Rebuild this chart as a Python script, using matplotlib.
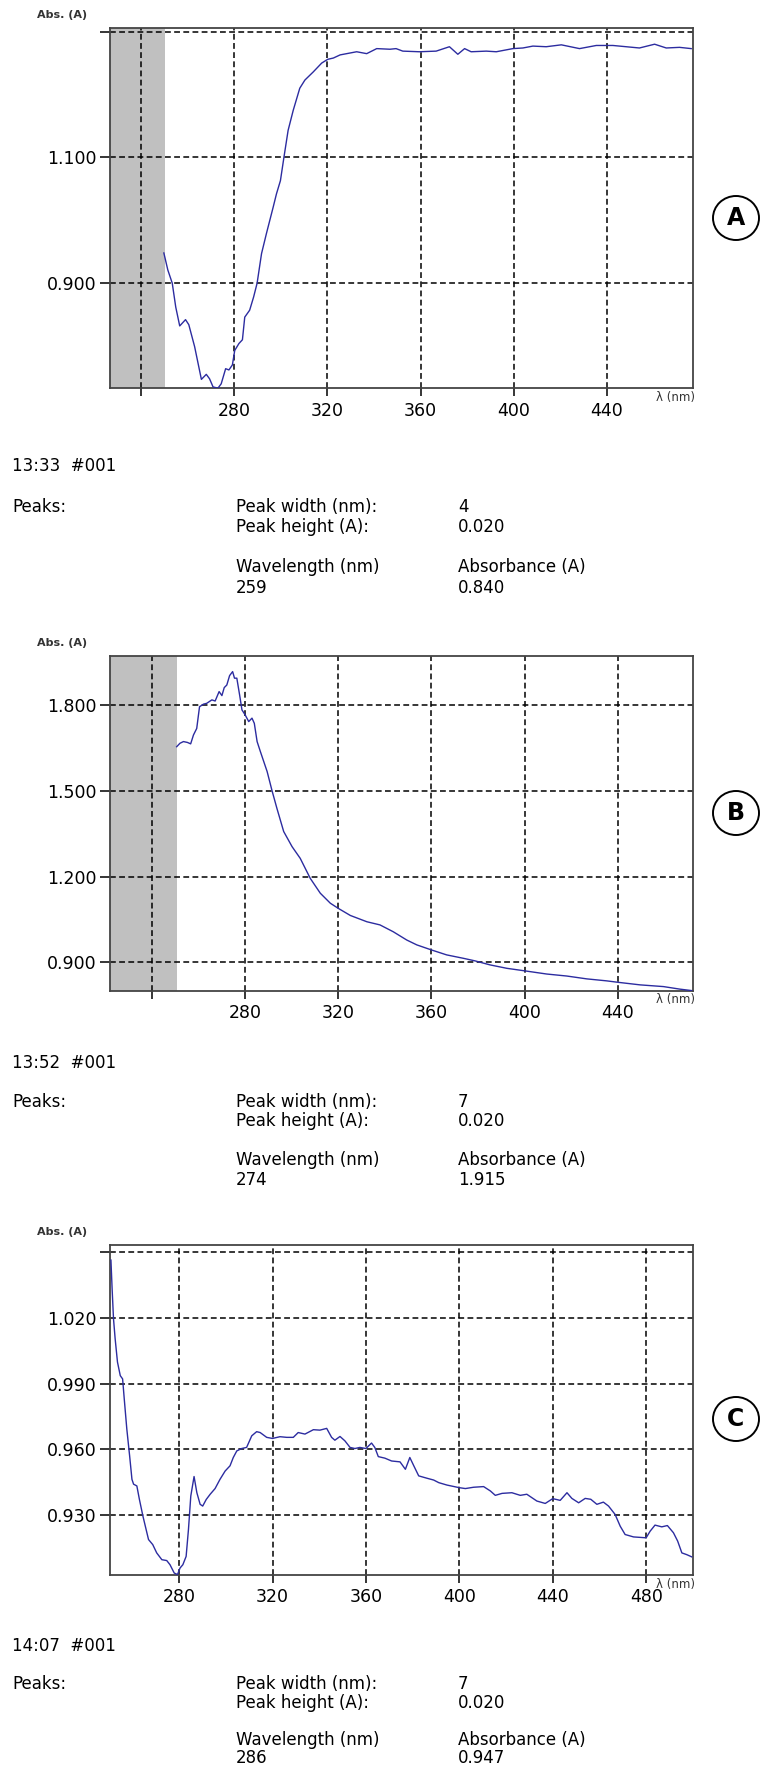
import matplotlib
matplotlib.use('Agg')
import matplotlib.pyplot as plt
from matplotlib.patches import Ellipse

W, H, DPI = 767, 1767, 100

# ---------------- data ----------------
# Spectrum A (13:33)
wl_a = [249.9, 251.6, 253.5, 255.0, 256.7, 259.2, 260.6, 263.1, 266.0, 268.1, 269.5, 271.0,
        273.1, 274.5, 276.4, 277.8, 279.3, 280.3, 282.1, 283.6, 284.6, 286.7, 288.4, 289.9,
        291.8, 293.9, 296.8, 298.2, 299.9, 301.4, 303.2, 305.4, 308.2, 310.4, 314.0, 317.6,
        320.2, 322.6, 325.5, 332.6, 336.9, 341.2, 346.9, 349.5, 352.4, 359.5, 366.7, 372.4,
        376.0, 378.9, 381.7, 388.2, 392.5, 399.6, 403.9, 408.2, 413.9, 420.4, 428.2, 435.4,
        442.5, 453.9, 460.4, 465.4, 471.1, 476.1]
abs_a = [0.948, 0.921, 0.900, 0.862, 0.832, 0.842, 0.834, 0.799, 0.747, 0.755, 0.748, 0.735,
         0.733, 0.740, 0.764, 0.762, 0.770, 0.793, 0.804, 0.810, 0.846, 0.857, 0.878, 0.900,
         0.947, 0.979, 1.021, 1.042, 1.063, 1.100, 1.143, 1.175, 1.210, 1.223, 1.236, 1.250,
         1.256, 1.258, 1.263, 1.268, 1.265, 1.273, 1.272, 1.273, 1.269, 1.268, 1.269, 1.276,
         1.264, 1.273, 1.268, 1.269, 1.268, 1.273, 1.274, 1.277, 1.276, 1.279, 1.273, 1.278,
         1.278, 1.274, 1.280, 1.274, 1.275, 1.273]

# Spectrum B (13:52)
wl_b = [250.7, 252.1, 253.6, 255.3, 256.7, 257.9, 259.3, 260.5, 262.2, 263.6, 265.8, 267.2,
        268.9, 270.1, 271.1, 272.2, 273.4, 274.7, 275.5, 276.5, 277.7, 278.7, 280.1, 281.6,
        283.0, 284.0, 285.2, 286.6, 289.5, 291.6, 293.7, 296.6, 300.2, 303.7, 308.0, 312.3,
        316.6, 320.0, 325.2, 332.3, 337.9, 343.6, 349.4, 353.7, 360.1, 366.5, 373.7, 378.7,
        385.1, 392.3, 400.1, 409.4, 418.0, 426.6, 435.2, 440.0, 449.5, 459.5, 466.6, 471.6]
abs_b = [1.655, 1.667, 1.673, 1.670, 1.665, 1.696, 1.719, 1.795, 1.804, 1.807, 1.819, 1.815,
         1.848, 1.834, 1.862, 1.871, 1.904, 1.918, 1.895, 1.895, 1.836, 1.784, 1.766, 1.743,
         1.755, 1.737, 1.673, 1.638, 1.568, 1.501, 1.439, 1.358, 1.305, 1.264, 1.194, 1.142,
         1.107, 1.089, 1.064, 1.042, 1.031, 1.007, 0.978, 0.961, 0.943, 0.926, 0.914, 0.905,
         0.891, 0.879, 0.870, 0.859, 0.852, 0.842, 0.835, 0.830, 0.821, 0.815, 0.806, 0.801]

# Spectrum C (14:07)
wl_c = [250.8, 251.3, 251.9, 252.6, 253.6, 254.8, 255.8, 256.5, 257.6, 258.8, 259.8, 260.5,
        261.9, 263.0, 264.5, 266.2, 266.9, 268.7, 270.4, 272.6, 274.7, 276.1, 277.9, 279.3,
        280.4, 281.6, 283.0, 284.0, 285.0, 286.4, 287.6, 289.0, 290.1, 291.6, 293.3, 295.4,
        297.5, 299.7, 301.8, 303.2, 304.7, 306.8, 308.9, 311.1, 313.2, 314.7, 317.5, 320.0,
        323.2, 326.1, 328.9, 331.0, 333.9, 337.5, 340.3, 343.2, 345.3, 346.7, 348.9, 351.0,
        353.2, 355.3, 357.4, 360.0, 362.4, 363.8, 365.3, 368.1, 371.0, 374.6, 376.9, 378.8,
        380.5, 382.6, 386.2, 389.0, 391.2, 394.7, 400.0, 402.6, 406.1, 410.4, 413.3, 415.4,
        418.3, 422.5, 426.1, 428.9, 433.2, 436.8, 440.0, 443.2, 446.1, 448.2, 451.1, 453.9,
        456.3, 458.9, 461.7, 463.9, 466.7, 468.9, 471.0, 474.6, 480.0, 481.7, 483.8, 486.7,
        489.1, 491.7, 493.5, 495.3, 497.4, 499.5]
abs_c = [1.0464, 1.0334, 1.0196, 1.0105, 0.9998, 0.9936, 0.9921, 0.9830, 0.9692, 0.9570,
         0.9462, 0.9440, 0.9432, 0.9370, 0.9294, 0.9218, 0.9187, 0.9164, 0.9126, 0.9095,
         0.9091, 0.9072, 0.9034, 0.9027, 0.9057, 0.9072, 0.9110, 0.9233, 0.9386, 0.9475,
         0.9401, 0.9348, 0.9340, 0.9370, 0.9394, 0.9420, 0.9462, 0.9500, 0.9524, 0.9562,
         0.9592, 0.9603, 0.9608, 0.9661, 0.9680, 0.9676, 0.9654, 0.9649, 0.9657, 0.9654,
         0.9654, 0.9676, 0.9669, 0.9689, 0.9687, 0.9695, 0.9654, 0.9641, 0.9658, 0.9638,
         0.9608, 0.9603, 0.9608, 0.9603, 0.9628, 0.9608, 0.9566, 0.9559, 0.9546, 0.9542,
         0.9508, 0.9562, 0.9524, 0.9478, 0.9467, 0.9459, 0.9447, 0.9436, 0.9424, 0.9420,
         0.9426, 0.9429, 0.9409, 0.9389, 0.9398, 0.9401, 0.9389, 0.9394, 0.9363, 0.9352,
         0.9374, 0.9366, 0.9401, 0.9375, 0.9355, 0.9375, 0.9371, 0.9348, 0.9358, 0.9340,
         0.9302, 0.9248, 0.9210, 0.9199, 0.9195, 0.9225, 0.9253, 0.9245, 0.9251, 0.9218,
         0.9180, 0.9126, 0.9118, 0.9108]

xlim_a, ylim_a = (226.8, 477.0), (0.7325, 1.3053)
xlim_b, ylim_b = (222.1, 472.3), (0.8006, 1.9737)
xlim_c, ylim_c = (250.4, 500.2), (0.9025, 1.0533)

xticks_a = [240, 280, 320, 360, 400, 440]
xlabels_a = ['', '280', '320', '360', '400', '440']
yticks_a = [0.9, 1.1, 1.3]
ylabels_a = ['0.900', '1.100', '']

xticks_b = [240, 280, 320, 360, 400, 440]
xlabels_b = ['', '280', '320', '360', '400', '440']
yticks_b = [0.9, 1.2, 1.5, 1.8]
ylabels_b = ['0.900', '1.200', '1.500', '1.800']

xticks_c = [280, 320, 360, 400, 440, 480]
xlabels_c = ['280', '320', '360', '400', '440', '480']
yticks_c = [0.93, 0.96, 0.99, 1.02, 1.05]
ylabels_c = ['0.930', '0.960', '0.990', '1.020', '']

shade_a = 250.2
shade_b = 250.7
shade_c = None

times = ['13:33  #001', '13:52  #001', '14:07  #001']
peak_widths = ['4', '7', '7']
peak_heights = ['0.020', '0.020', '0.020']
peak_wl = ['259', '274', '286']
peak_abs = ['0.840', '1.915', '0.947']
panel_letters = ['A', 'B', 'C']

# ---------------- layout ----------------
plt.rcParams['font.family'] = ['DejaVu Sans']
fig = plt.figure(figsize=(W / DPI, H / DPI), dpi=DPI)
fig.patch.set_facecolor('white')

LINE = '#2c2ca0'
FS = 12.0
TFS = 12.5


def fx(px):
    return px / W


def fy(py):
    return 1 - py / H


def make_axes(top, bottom, wl, ab, xlim, ylim, xt, xl, yt, yl, shade):
    ax = fig.add_axes([fx(110), fy(bottom), fx(693.3) - fx(110), (bottom - top) / H])
    if shade is not None:
        ax.axvspan(xlim[0], shade, color='#c0c0c0', zorder=0.3, lw=0)
    ax.plot(wl, ab, color=LINE, lw=1.0, zorder=3)
    ax.set_xlim(*xlim)
    ax.set_ylim(*ylim)
    ax.set_xticks(xt)
    ax.set_xticklabels(xl)
    ax.set_yticks(yt)
    ax.set_yticklabels(yl)
    ax.set_axisbelow(True)
    ax.grid(True, color='black', lw=1.1, ls=(0, (3.8, 2.2)), zorder=0.5)
    ax.tick_params(axis='x', direction='out', length=6, width=1.1, pad=3.5,
                   labelsize=TFS, colors='black')
    ax.tick_params(axis='y', direction='out', length=7, width=1.1, pad=2.5,
                   labelsize=TFS, colors='black')
    for s in ax.spines.values():
        s.set_color('#444444')
        s.set_linewidth(1.3)
    fig.text(fx(37), fy(top - 13), 'Abs. (A)', fontsize=8, fontweight='bold',
             color='#333333', ha='left', va='center')
    fig.text(fx(695), fy(bottom + 9), 'λ (nm)', fontsize=8.5, color='#333333',
             ha='right', va='center')
    return ax


panels = [
    (28.3, 388.5, wl_a, abs_a, xlim_a, ylim_a, xticks_a, xlabels_a, yticks_a, ylabels_a, shade_a),
    (655.7, 990.7, wl_b, abs_b, xlim_b, ylim_b, xticks_b, xlabels_b, yticks_b, ylabels_b, shade_b),
    (1245.0, 1575.0, wl_c, abs_c, xlim_c, ylim_c, xticks_c, xlabels_c, yticks_c, ylabels_c, shade_c),
]
for p in panels:
    make_axes(*p)

# text blocks below each chart (row centres in pixels from the top)
block_rows = [
    [466.0, 507.0, 527.0, 567.0, 588.0],
    [1063.0, 1102.0, 1121.0, 1160.0, 1180.0],
    [1646.0, 1684.0, 1702.5, 1740.0, 1757.5],
]
for i, ys in enumerate(block_rows):
    fig.text(fx(12), fy(ys[0]), times[i], fontsize=FS, ha='left', va='center')
    fig.text(fx(12), fy(ys[1]), 'Peaks:', fontsize=FS, ha='left', va='center')
    fig.text(fx(236), fy(ys[1]), 'Peak width (nm):', fontsize=FS, ha='left', va='center')
    fig.text(fx(458), fy(ys[1]), peak_widths[i], fontsize=FS, ha='left', va='center')
    fig.text(fx(236), fy(ys[2]), 'Peak height (A):', fontsize=FS, ha='left', va='center')
    fig.text(fx(458), fy(ys[2]), peak_heights[i], fontsize=FS, ha='left', va='center')
    fig.text(fx(236), fy(ys[3]), 'Wavelength (nm)', fontsize=FS, ha='left', va='center')
    fig.text(fx(458), fy(ys[3]), 'Absorbance (A)', fontsize=FS, ha='left', va='center')
    fig.text(fx(236), fy(ys[4]), peak_wl[i], fontsize=FS, ha='left', va='center')
    fig.text(fx(458), fy(ys[4]), peak_abs[i], fontsize=FS, ha='left', va='center')

# circled panel letters
circle_y = [218.0, 813.0, 1419.0]
for letter, cy in zip(panel_letters, circle_y):
    fig.add_artist(Ellipse((fx(736), fy(cy)), 46 / W, 44 / H, transform=fig.transFigure,
                           fill=False, lw=1.4, color='black'))
    fig.text(fx(736), fy(cy), letter, fontsize=17, fontweight='bold',
             family=['Liberation Sans Narrow', 'DejaVu Sans'],
             ha='center', va='center')

fig.savefig('out.png', dpi=DPI, facecolor='white')
